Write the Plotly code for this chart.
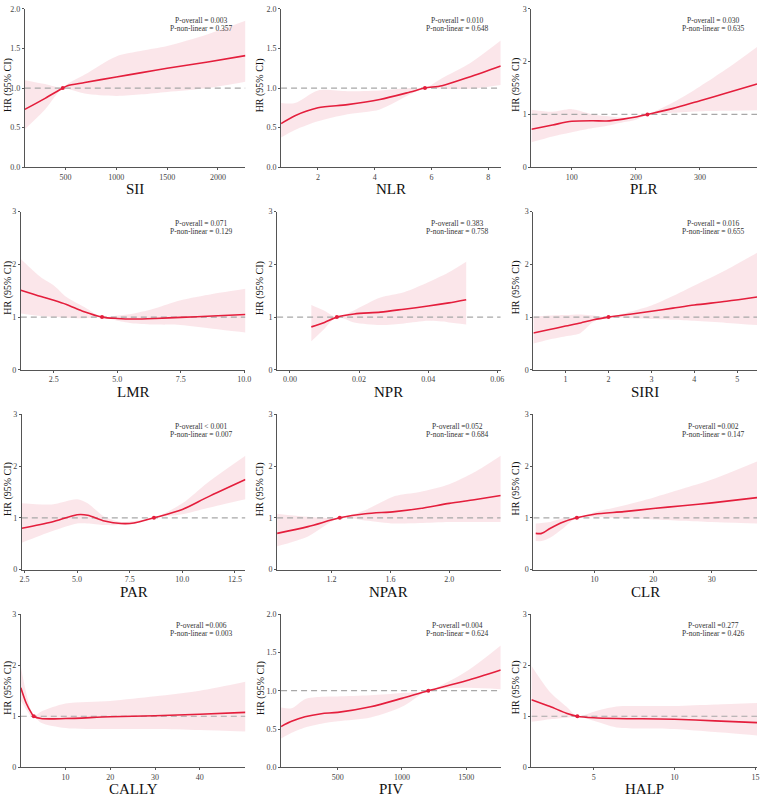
import plotly.graph_objects as go

# ---------------- data ----------------
SII_X = [100, 300, 474, 520, 690, 1000, 1250, 1500, 1900, 2270]
SII_HR = [0.73, 0.87, 1.0, 1.03, 1.07, 1.14, 1.195, 1.25, 1.33, 1.41]
SII_HI = [1.10, 1.05, 1.0, 1.05, 1.17, 1.40, 1.47, 1.53, 1.68, 1.85]
SII_LO = [0.48, 0.73, 1.0, 0.99, 0.93, 0.90, 0.92, 0.95, 1.0, 1.08]

NLR_X = [0.70, 1.19, 2.0, 3.04, 4.18, 5.25, 5.77, 6.37, 7.34, 8.44]
NLR_HR = [0.55, 0.65, 0.75, 0.79, 0.855, 0.95, 1.0, 1.03, 1.14, 1.28]
NLR_HI = [0.81, 0.81, 0.97, 0.96, 0.97, 1.0, 1.0, 1.125, 1.31, 1.6]
NLR_LO = [0.375, 0.47, 0.58, 0.67, 0.73, 0.92, 1.0, 0.99, 0.99, 1.04]

PLR_X = [37, 70, 100, 133, 154, 180, 200, 218, 257, 300, 340, 389]
PLR_HR = [0.72, 0.80, 0.87, 0.88, 0.875, 0.91, 0.95, 1.0, 1.11, 1.26, 1.40, 1.575]
PLR_HI = [1.09, 1.05, 1.10, 1.0, 0.97, 0.94, 0.96, 1.0, 1.22, 1.53, 1.85, 2.28]
PLR_LO = [0.47, 0.58, 0.66, 0.74, 0.78, 0.85, 0.90, 1.0, 1.03, 1.06, 1.07, 1.08]

LMR_X = [1.2, 2.0, 2.5, 3.0, 3.7, 4.4, 5.0, 5.65, 6.5, 7.5, 8.75, 10.05]
LMR_HR = [1.51, 1.39, 1.32, 1.24, 1.10, 1.0, 0.975, 0.965, 0.975, 0.995, 1.02, 1.05]
LMR_HI = [2.1, 1.75, 1.6, 1.38, 1.19, 1.0, 1.03, 1.07, 1.17, 1.32, 1.44, 1.54]
LMR_LO = [1.07, 1.02, 1.0, 0.99, 0.98, 1.0, 0.93, 0.88, 0.86, 0.85, 0.78, 0.71]

NPR_X = [0.0062, 0.010, 0.0136, 0.0186, 0.0262, 0.033, 0.040, 0.046, 0.051]
NPR_HR = [0.815, 0.90, 1.0, 1.06, 1.095, 1.15, 1.21, 1.27, 1.33]
NPR_HI = [1.23, 1.12, 1.0, 1.13, 1.37, 1.47, 1.66, 1.85, 2.05]
NPR_LO = [0.54, 0.78, 1.0, 0.90, 0.85, 0.88, 0.93, 0.90, 0.86]

SIRI_X = [0.25, 0.6, 1.0, 1.35, 1.65, 2.0, 2.5, 3.0, 3.5, 4.0, 4.75, 5.46]
SIRI_HR = [0.70, 0.76, 0.83, 0.89, 0.95, 1.0, 1.055, 1.11, 1.17, 1.23, 1.30, 1.38]
SIRI_HI = [1.01, 1.03, 1.04, 1.05, 1.03, 1.0, 1.10, 1.22, 1.40, 1.60, 1.90, 2.22]
SIRI_LO = [0.50, 0.57, 0.635, 0.70, 0.91, 1.0, 0.98, 0.965, 0.95, 0.93, 0.89, 0.85]

PAR_X = [2.37, 3.8, 5.0, 5.5, 6.3, 7.1, 7.7, 8.65, 10.0, 11.2, 13.0]
PAR_HR = [0.80, 0.92, 1.06, 1.05, 0.94, 0.89, 0.90, 1.0, 1.16, 1.40, 1.74]
PAR_HI = [1.28, 1.26, 1.36, 1.28, 1.02, 0.92, 0.94, 1.0, 1.28, 1.68, 2.2]
PAR_LO = [0.52, 0.74, 0.89, 0.89, 0.86, 0.86, 0.88, 1.0, 1.07, 1.19, 1.36]

NPAR_X = [0.83, 1.04, 1.256, 1.43, 1.63, 1.8, 2.0, 2.17, 2.35]
NPAR_HR = [0.70, 0.83, 1.0, 1.08, 1.12, 1.18, 1.28, 1.35, 1.43]
NPAR_HI = [1.08, 1.02, 1.0, 1.15, 1.42, 1.5, 1.65, 1.88, 2.2]
NPAR_LO = [0.45, 0.64, 1.0, 0.95, 0.89, 0.90, 0.92, 0.92, 0.92]

CLR_X = [0.0, 1.0, 2.5, 4.7, 7.0, 10, 15, 20, 25, 30, 37.7]
CLR_HR = [0.70, 0.70, 0.80, 0.92, 1.0, 1.07, 1.12, 1.18, 1.235, 1.29, 1.39]
CLR_HI = [0.89, 0.90, 0.92, 0.99, 1.0, 1.11, 1.24, 1.39, 1.56, 1.74, 2.09]
CLR_LO = [0.55, 0.55, 0.62, 0.80, 1.0, 1.02, 0.99, 0.97, 0.945, 0.92, 0.89]

CALLY_X = [0, 1.25, 2.4, 2.9, 4.5, 10, 20, 30, 40, 50.2]
CALLY_HR = [1.56, 1.25, 1.06, 1.0, 0.955, 0.955, 0.99, 1.01, 1.04, 1.075]
CALLY_HI = [1.97, 1.44, 1.08, 1.0, 1.09, 1.25, 1.30, 1.39, 1.50, 1.675]
CALLY_LO = [1.31, 1.125, 0.99, 1.0, 0.875, 0.77, 0.75, 0.75, 0.73, 0.70]

PIV_X = [59, 141, 245, 372, 500, 756, 1000, 1205, 1500, 1769]
PIV_HR = [0.533, 0.60, 0.66, 0.70, 0.717, 0.79, 0.90, 1.0, 1.13, 1.27]
PIV_HI = [0.78, 0.77, 0.89, 0.92, 0.925, 0.94, 0.97, 1.0, 1.25, 1.59]
PIV_LO = [0.375, 0.45, 0.52, 0.57, 0.60, 0.65, 0.79, 1.0, 1.04, 1.02]

HALP_X = [1.14, 2.3, 3.3, 3.98, 5.0, 6.4, 8.0, 10, 12.5, 15.1]
HALP_HR = [1.325, 1.19, 1.06, 1.0, 0.97, 0.955, 0.95, 0.94, 0.91, 0.875]
HALP_HI = [1.99, 1.47, 1.19, 1.0, 1.09, 1.19, 1.20, 1.20, 1.23, 1.26]
HALP_LO = [0.89, 0.94, 0.97, 1.0, 0.91, 0.78, 0.76, 0.75, 0.69, 0.625]

NAMES = ["SII", "NLR", "PLR", "LMR", "NPR", "SIRI", "PAR", "NPAR", "CLR", "CALLY", "PIV", "HALP"]
REF_X = [474, 5.77, 218, 4.4, 0.0136, 2.0, 8.65, 1.256, 7.0, 2.9, 1205, 3.98]
P_OVERALL = ["P-overall = 0.003", "P-overall = 0.010", "P-overall = 0.030",
             "P-overall = 0.071", "P-overall = 0.383", "P-overall = 0.016",
             "P-overall < 0.001", "P-overall =0.052", "P-overall =0.002",
             "P-overall =0.006", "P-overall =0.004", "P-overall =0.277"]
P_NONLIN = ["P-non-linear = 0.357", "P-non-linear = 0.648", "P-non-linear = 0.635",
            "P-non-linear = 0.129", "P-non-linear = 0.758", "P-non-linear = 0.655",
            "P-non-linear = 0.007", "P-non-linear = 0.684", "P-non-linear = 0.147",
            "P-non-linear = 0.003", "P-non-linear = 0.624", "P-non-linear = 0.426"]
X_TICKS = [[500, 1000, 1500, 2000], [2, 4, 6, 8], [100, 200, 300],
           [2.5, 5.0, 7.5, 10.0], [0.00, 0.02, 0.04, 0.06], [1, 2, 3, 4, 5],
           [2.5, 5.0, 7.5, 10.0, 12.5], [1.2, 1.6, 2.0], [10, 20, 30],
           [10, 20, 30, 40], [500, 1000, 1500], [5, 10, 15]]
X_TICKTEXT = [["500", "1000", "1500", "2000"], ["2", "4", "6", "8"], ["100", "200", "300"],
              ["2.5", "5.0", "7.5", "10.0"], ["0.00", "0.02", "0.04", "0.06"], ["1", "2", "3", "4", "5"],
              ["2.5", "5.0", "7.5", "10.0", "12.5"], ["1.2", "1.6", "2.0"], ["10", "20", "30"],
              ["10", "20", "30", "40"], ["500", "1000", "1500"], ["5", "10", "15"]]
X_RANGE = [[100, 2270], [0.70, 8.44], [37, 389], [1.2, 10.05], [-0.0037, 0.061], [0.25, 5.46],
           [2.37, 13.0], [0.83, 2.35], [-0.4, 37.7], [0, 50.2], [59, 1769], [1.14, 15.1]]
Y_MAX = [2, 2, 3, 3, 3, 3, 3, 3, 3, 3, 2, 3]

SERIES = [
    (SII_X, SII_HR, SII_LO, SII_HI), (NLR_X, NLR_HR, NLR_LO, NLR_HI),
    (PLR_X, PLR_HR, PLR_LO, PLR_HI), (LMR_X, LMR_HR, LMR_LO, LMR_HI),
    (NPR_X, NPR_HR, NPR_LO, NPR_HI), (SIRI_X, SIRI_HR, SIRI_LO, SIRI_HI),
    (PAR_X, PAR_HR, PAR_LO, PAR_HI), (NPAR_X, NPAR_HR, NPAR_LO, NPAR_HI),
    (CLR_X, CLR_HR, CLR_LO, CLR_HI), (CALLY_X, CALLY_HR, CALLY_LO, CALLY_HI),
    (PIV_X, PIV_HR, PIV_LO, PIV_HI), (HALP_X, HALP_HR, HALP_LO, HALP_HI),
]

# ---------------- layout (pixels) ----------------
W, H = 767, 802
X_DOM_PX = [(23, 246), (282, 504), (535, 763),
            (19, 246), (278, 504), (537, 763),
            (20, 246), (278, 504), (537, 763),
            (19, 246), (282, 504), (535, 763)]
ROW_PX = [(5, 165), (210, 370), (415, 572), (617, 772)]
XTITLE_Y = [187, 392, 595, 794]
YTITLE_X = [6, 261, 519]

SERIF = "Liberation Serif, Times New Roman, serif"
RED = "#e41e3c"
BAND = "rgba(246, 196, 206, 0.42)"
DASH = "#a8a8a8"

fig = go.Figure()
annotations = []

for i, name in enumerate(NAMES):
    r, c = divmod(i, 3)
    ax = "" if i == 0 else str(i + 1)
    xa, ya = "x" + ax, "y" + ax
    xs, hr, lo, hi = SERIES[i]
    x0, x1 = X_DOM_PX[i]
    ytop, ybot = ROW_PX[r]

    # CI band
    fig.add_trace(go.Scatter(x=xs, y=hi, mode="lines", line=dict(width=0, shape="spline", smoothing=0.8),
                             xaxis=xa, yaxis=ya, showlegend=False, hoverinfo="skip"))
    fig.add_trace(go.Scatter(x=xs, y=lo, mode="lines", line=dict(width=0, shape="spline", smoothing=0.8),
                             fill="tonexty", fillcolor=BAND,
                             xaxis=xa, yaxis=ya, showlegend=False, hoverinfo="skip"))
    # reference line HR = 1
    fig.add_trace(go.Scatter(x=X_RANGE[i], y=[1, 1], mode="lines",
                             line=dict(color=DASH, width=1.2, dash="6px,4px"),
                             xaxis=xa, yaxis=ya, showlegend=False, hoverinfo="skip"))
    # HR curve
    fig.add_trace(go.Scatter(x=xs, y=hr, mode="lines", line=dict(color=RED, width=1.6, shape="spline", smoothing=0.8),
                             xaxis=xa, yaxis=ya, showlegend=False))
    # reference point
    fig.add_trace(go.Scatter(x=[REF_X[i]], y=[1], mode="markers", marker=dict(color=RED, size=4),
                             xaxis=xa, yaxis=ya, showlegend=False))

    ymax = Y_MAX[i]
    if ymax == 2:
        yt = [0, 0.5, 1.0, 1.5, 2.0]
        ytt = ["0.0", "0.5", "1.0", "1.5", "2.0"]
    else:
        yt = [0, 1, 2, 3]
        ytt = ["0", "1", "2", "3"]

    axis_common = dict(showgrid=False, zeroline=False, showline=True, linecolor="#555555", linewidth=1,
                       ticks="outside", ticklen=2, tickcolor="#555555",
                       tickfont=dict(family=SERIF, size=8, color="#444444"))
    fig.layout["xaxis" + ax] = dict(domain=[x0 / W, x1 / W], range=X_RANGE[i], anchor=ya,
                                    tickvals=X_TICKS[i], ticktext=X_TICKTEXT[i], **axis_common)
    fig.layout["yaxis" + ax] = dict(domain=[1 - ybot / H, 1 - ytop / H], range=[0, ymax], anchor=xa,
                                    tickvals=yt, ticktext=ytt, **axis_common)

    # p-value text
    cx = (x1 - 44) / W
    annotations.append(dict(x=cx, y=1 - (ytop + 12) / H, xref="paper", yref="paper", text=P_OVERALL[i],
                            showarrow=False, xanchor="center", yanchor="middle",
                            font=dict(family=SERIF, size=7.5, color="#333333")))
    annotations.append(dict(x=cx, y=1 - (ytop + 20) / H, xref="paper", yref="paper", text=P_NONLIN[i],
                            showarrow=False, xanchor="center", yanchor="middle",
                            font=dict(family=SERIF, size=7.5, color="#333333")))
    # x title
    annotations.append(dict(x=(x0 + x1) / 2 / W, y=1 - XTITLE_Y[r] / H, xref="paper", yref="paper",
                            text=name, showarrow=False, xanchor="center", yanchor="middle",
                            font=dict(family=SERIF, size=15, color="#111111")))
    # y title
    annotations.append(dict(x=YTITLE_X[c] / W, y=1 - ((ytop + ybot) / 2 - 3) / H, xref="paper", yref="paper",
                            text="HR (95% CI)", textangle=-90, showarrow=False,
                            xanchor="center", yanchor="middle",
                            font=dict(family=SERIF, size=10, color="#111111")))

fig.update_layout(width=W, height=H, margin=dict(l=0, r=0, t=0, b=0),
                  paper_bgcolor="white", plot_bgcolor="white", annotations=annotations,
                  showlegend=False)

fig.write_html("out.html")
